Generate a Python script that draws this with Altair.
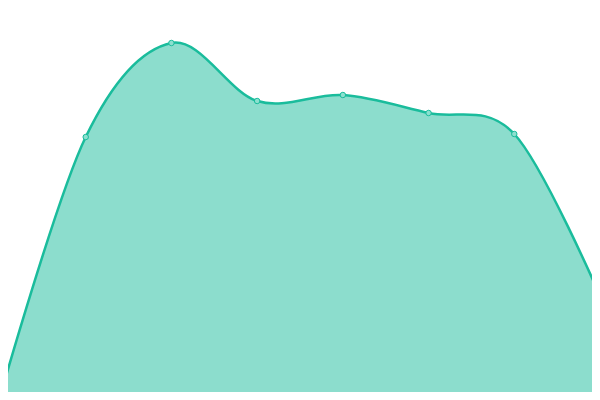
import altair as alt
import pandas as pd

idx = [0, 1, 2, 3, 4, 5, 6, 7]
vals = [3, 263, 357, 299, 305, 287, 266, 104]

df = pd.DataFrame({"i": idx, "v": vals})

step = 600 / 7
xs = alt.Scale(domain=[8 / step, 592 / step], nice=False, zero=False)
ys = alt.Scale(domain=[8, 392], nice=False, zero=False)
X = alt.X("i:Q", scale=xs, axis=None)
Y = alt.Y("v:Q", scale=ys, axis=None)

base = alt.Chart(df)
area = base.mark_area(interpolate="cardinal", color="#1abc9c", opacity=0.5, clip=True).encode(x=X, y=Y)
line = base.mark_line(interpolate="cardinal", color="#1abc9c", strokeWidth=2.5, clip=True).encode(x=X, y=Y)
pts = base.mark_point(filled=True, fill="#8ce0cf", stroke="#1abc9c", strokeWidth=1, size=30, opacity=1, clip=True).encode(x=X, y=Y)

chart = alt.layer(area, line, pts).properties(
    width=584, height=384, autosize=alt.AutoSizeParams(type="none"), padding=0
).configure_view(stroke=None)

chart.save("out.html", embed_options={"renderer": "svg", "actions": False})
